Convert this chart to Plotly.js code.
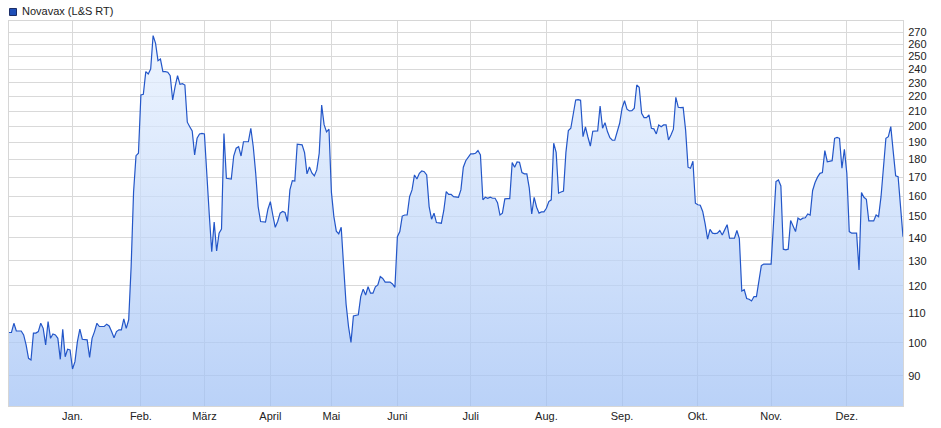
<!DOCTYPE html>
<html>
<head>
<meta charset="utf-8">
<script src="https://cdn.plot.ly/plotly-3.0.1.min.js"></script>
<style>
html,body{margin:0;padding:0;background:#ffffff;}
#chart{width:941px;height:428px;}
</style>
</head>
<body>
<div id="chart"></div>
<script>
// Novavax (L&S RT), EUR, one value per trading point, grouped by month
const monthLabels = ['Jan.','Feb.','März','April','Mai','Juni','Juli','Aug.','Sep.','Okt.','Nov.','Dez.'];
const yTicks = [90,100,110,120,130,140,150,160,170,180,190,200,210,220,230,240,250,260,270];

const dec2020 = [103.4,103.4,106.5,103.9,103.9,103.9,102.6,99.4,95.2,94.7,103.2,103.2,103.7,106.5,104.8,99.4,107.1,101.5,102.9,102.6,101.5,94.9,104.5,95.7,98.0,97.8];
const jan2021 = [92.0,94.2,100.4,104.5,101.2,101.2,101.0,95.5,101.5,103.7,106.5,105.4,105.4,105.4,106.2,105.6,103.7,101.7,103.7,104.3,104.3,108.0,104.8,107.7,127.6,162.1,182.1,183.5];
const feb2021 = [221.1,221.6,238.3,236.5,240.3,267.4,260.9,246.8,248.1,238.3,238.3,237.8,235.2,217.6,227.1,235.2,228.8,229.3,228.3,202.7,199.8,197.1,182.5,192.5,195.2,195.6];
const mar2021 = [195.2,167.6,150.6,133.9,147.2,134.2,142.1,144.0,195.4,169.4,169.0,169.0,181.9,186.5,187.4,181.9,190.4,190.4,190.4,198.8,187.4,172.1,154.7,147.5,147.3,147.2,153.4];
const apr2021 = [157.2,150.6,144.8,147.5,151.5,152.3,151.8,147.5,163.2,168.1,167.9,188.9,188.9,188.5,183.9,171.8,175.6,172.3,170.7,174.0,183.5,214.1,201.1,196.5,198.2];
const may2021 = [161.9,149.8,143.0,141.8,144.8,127.7,113.3,105.4,100.2,109.0,109.1,109.4,116.0,118.8,116.6,119.7,117.3,117.3,119.7,120.4,123.7,122.9,121.5,121.5,121.5,120.8,119.5];
const jun2021 = [140.5,142.8,150.1,150.6,150.6,159.7,163.2,171.2,169.0,172.1,173.4,173.0,171.2,154.7,148.6,151.5,147.0,146.7,146.7,152.8,162.3,160.9,160.9,159.7,159.4,159.4,163.2,175.5,179.2,181.5];
const jul2021 = [183.1,183.1,183.5,185.1,182.5,158.1,159.4,158.9,159.4,158.9,158.9,156.7,150.6,151.5,158.6,158.7,158.7,178.1,175.5,178.5,178.3,172.5,171.8,171.8,164.1,151.1,159.4,154.4,151.5,152.1,152.1];
const aug2021 = [153.9,157.2,158.1,189.5,184.0,161.5,162.1,162.6,184.0,197.3,198.8,209.7,217.6,217.8,217.4,193.5,199.6,193.3,187.8,196.9,197.1,197.1,213.5,198.8,202.4,196.7,192.9,191.3,191.3,196.7,202.0];
const sep2021 = [212.0,217.1,211.3,210.1,210.3,212.0,228.3,226.7,208.6,205.7,205.7,207.5,198.8,198.4,195.2,200.9,199.8,200.9,200.9,191.5,194.6,198.2,219.5,212.6,212.4,212.5,197.6,175.5,174.9,178.9,156.4];
const oct2021 = [155.6,155.4,152.3,146.4,139.4,143.8,142.1,141.9,142.1,143.3,141.3,143.6,146.0,139.8,139.7,139.8,143.3,139.7,118.1,118.6,115.3,115.0,114.4,116.0,116.0,122.4,128.1,128.7,128.7,128.7];
const nov2021 = [128.7,146.7,167.6,168.5,165.3,135.0,134.7,135.0,148.0,145.4,142.8,149.1,148.3,149.1,149.3,151.1,150.6,162.9,167.1,170.0,172.1,172.5,185.1,178.6,179.0,179.2,192.5,193.1,192.5,174.9,185.9];
const dec2021 = [172.1,142.8,142.1,142.1,142.1,126.3,161.8,159.4,158.4,147.8,147.8,147.8,150.6,149.8,159.7,174.9,192.5,193.5,199.8,184.5,170.7,170.3,156.4,140.5];

const labeledMonths = [jan2021,feb2021,mar2021,apr2021,may2021,jun2021,jul2021,aug2021,sep2021,oct2021,nov2021,dec2021];
const allMonths = [dec2020].concat(labeledMonths);
const values = [].concat(...allMonths);
const xIdx = values.map((_, i) => i);

// month-start positions (index of first point in each labelled month)
const monthStarts = [];
let pos = dec2020.length;
labeledMonths.forEach(m => { monthStarts.push(pos); pos += m.length; });

const yMin = 81.73, yMax = 280.2;

const trace = {
  x: xIdx,
  y: values,
  type: 'scatter',
  mode: 'lines',
  line: {color: '#2356c8', width: 1.2},
  fill: 'tozeroy',
  fillcolor: 'rgba(190,212,247,0.72)',
  fillgradient: {
    type: 'vertical',
    start: yMin,
    stop: yMax,
    colorscale: [[0, 'rgba(159,192,245,0.72)'], [1, 'rgba(234,243,255,0.72)']]
  },
  hoverinfo: 'skip',
  showlegend: false
};

const layout = {
  width: 941,
  height: 428,
  margin: {l: 9, r: 38, t: 21, b: 22, pad: 0},
  paper_bgcolor: '#ffffff',
  plot_bgcolor: '#ffffff',
  showlegend: false,
  font: {family: 'Liberation Sans, Arial, sans-serif', size: 11, color: '#222222'},
  xaxis: {
    range: [0, values.length - 1],
    tickmode: 'array',
    tickvals: monthStarts,
    ticktext: monthLabels,
    showgrid: true,
    gridcolor: '#d9d9d9',
    gridwidth: 1,
    zeroline: false,
    showline: true,
    mirror: true,
    linecolor: '#d6d6d6',
    linewidth: 1,
    ticks: '',
    tickfont: {size: 11, color: '#222222'},
    fixedrange: true
  },
  yaxis: {
    type: 'log',
    side: 'right',
    range: [Math.log10(yMin), Math.log10(yMax)],
    tickmode: 'array',
    tickvals: yTicks,
    ticktext: yTicks.map(String),
    ticklabelstandoff: 2,
    showgrid: true,
    gridcolor: '#d9d9d9',
    gridwidth: 1,
    zeroline: false,
    showline: true,
    mirror: true,
    linecolor: '#d6d6d6',
    linewidth: 1,
    ticks: '',
    tickfont: {size: 11, color: '#222222'},
    fixedrange: true
  },
  shapes: [{
    type: 'rect', xref: 'paper', yref: 'paper',
    x0: 0.0006, x1: 0.0084, y0: 1.0143, y1: 1.0325,
    fillcolor: '#1f4fb8', line: {color: '#1a2c66', width: 1}
  }],
  annotations: [{
    xref: 'paper', yref: 'paper',
    x: 0.0125, y: 1.026,
    xanchor: 'left', yanchor: 'middle',
    text: 'Novavax (L&S RT)',
    showarrow: false,
    font: {size: 11, color: '#222222'}
  }]
};

Plotly.newPlot('chart', [trace], layout, {displayModeBar: false, staticPlot: true});
</script>
</body>
</html>
